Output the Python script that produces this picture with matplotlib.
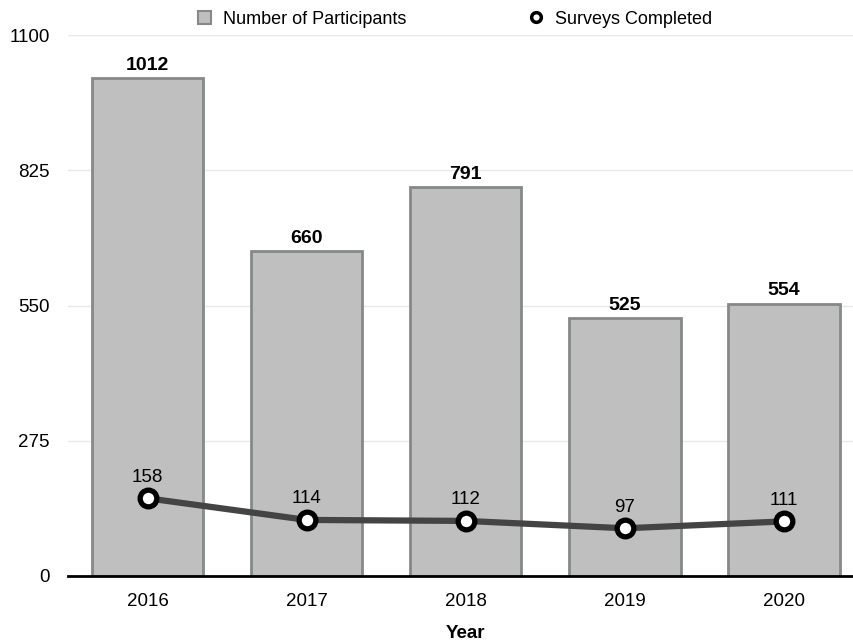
import numpy as np
import matplotlib.pyplot as plt
from matplotlib.lines import Line2D
from matplotlib.patches import Patch

plt.rcParams['font.family'] = ['Liberation Sans', 'DejaVu Sans']

# 資料
years = ['2016', '2017', '2018', '2019', '2020']
participants = [1012, 660, 791, 525, 554]
surveys = [158, 114, 112, 97, 111]
y_ticks = [0, 275, 550, 825, 1100]

fig = plt.figure(figsize=(8.54, 6.41), dpi=100)
ax = fig.add_axes([68 / 854, 65 / 641, 795.5 / 854, 541 / 641])

x = np.arange(len(years))

# 長條圖
ax.bar(x, participants, width=0.7, color='#bfbfbf', edgecolor='#858a86',
       linewidth=2, zorder=2)
for xi, v in zip(x, participants):
    ax.annotate(str(v), (xi, v), xytext=(0, 3), textcoords='offset points',
                ha='center', va='bottom', fontsize=14, fontweight='bold')

# 折線
ax.plot(x, surveys, color='#444444', linewidth=4.5, marker='o', markersize=12,
        markerfacecolor='white', markeredgecolor='black', markeredgewidth=3.8,
        zorder=3)
for xi, v in zip(x, surveys):
    ax.annotate(str(v), (xi, v), xytext=(0, 9), textcoords='offset points',
                ha='center', va='bottom', fontsize=13.5)

ax.set_xlim(-0.5, len(years) - 0.5)
ax.set_ylim(0, 1100)
ax.set_xticks(x)
ax.set_xticklabels(years, fontsize=13.5)
ax.set_yticks(y_ticks)
ax.set_yticklabels([str(t) for t in y_ticks], fontsize=13.5)
ax.tick_params(axis='both', length=0)
ax.tick_params(axis='y', pad=13)
ax.tick_params(axis='x', pad=12)
ax.grid(axis='y', color='#e8e8e8', linewidth=1, zorder=0)
ax.set_axisbelow(True)
for side in ['left', 'right', 'top']:
    ax.spines[side].set_visible(False)
ax.spines['bottom'].set_color('black')
ax.spines['bottom'].set_linewidth(2)
ax.spines['bottom'].set_zorder(4)

ax.set_xlabel('Year', fontsize=13.5, fontweight='bold', labelpad=11)

# 圖例
handles = [
    Patch(facecolor='#bfbfbf', edgecolor='#858a86', linewidth=1.5,
          label='Number of Participants'),
    Line2D([], [], linestyle='none', marker='o', markersize=7,
           markerfacecolor='white', markeredgecolor='black',
           markeredgewidth=2.5, label='Surveys Completed'),
]
fig.legend(handles=handles, loc='center', bbox_to_anchor=(455 / 854, 1 - 19 / 641),
           ncol=2, frameon=False, fontsize=13, handlelength=0.7,
           handleheight=0.7, handletextpad=0.7, columnspacing=6.8)

fig.savefig('out.png', dpi=100)
